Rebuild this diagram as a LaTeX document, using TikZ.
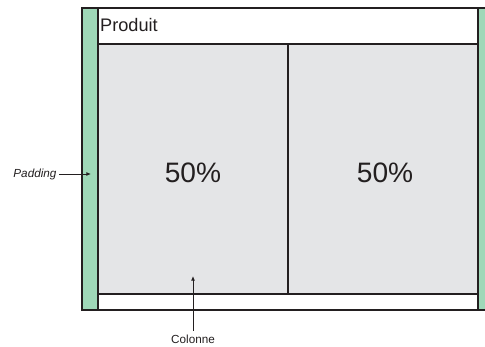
\documentclass[tikz,border=0pt]{standalone}
\usepackage{fontspec}
\setmainfont{Liberation Sans}
\usepackage{xcolor}
\usetikzlibrary{arrows.meta, positioning}

\definecolor{padgreen}{HTML}{9FD8B8}
\definecolor{colgray}{HTML}{E4E5E7}
\definecolor{ink}{HTML}{231F20}

\begin{document}
\begin{tikzpicture}[
x=0.03cm, y=-0.03cm,
frame/.style={draw=ink, line width=1.3pt},
col/.style={rectangle, frame, fill=colgray, inner sep=0pt, minimum width=5.7cm, minimum height=7.5cm},
pct/.style={font=\fontsize{24}{28}\selectfont, text=ink},
lbl/.style={font=\fontsize{10}{12}\selectfont, text=ink},
pointer/.style={-{Latex[length=4pt, width=3.5pt]}, draw=ink, line width=0.8pt}
]

\useasboundingbox (0,0) rectangle (485,347);
\clip (0,0) rectangle (485,347);

% Padding and container
\filldraw[frame, fill=padgreen] (82,8) rectangle (494,310);
\filldraw[frame, fill=white] (98,8) rectangle (478,310);

% Header
\node[anchor=base west, inner sep=0pt, text=ink, font=\fontsize{15.5}{18}\selectfont] (titre) at (100,32) {Produit};

% Columns
\node[col] (col1) at (193,169) {};
\node[col] (col2) at (383,169) {};
\node[pct] (pct1) at (193,173) {50\%};
\node[pct] (pct2) at (385,173) {50\%};

% Labels
\node[lbl, anchor=east, inner sep=2pt] (padlbl) at (59,174) {\itshape Padding};
\coordinate (padtip) at (91,174);
\draw[pointer] (padlbl) -- (padtip);

\node[lbl] (collbl) at (193,339) {Colonne};
\coordinate (coltip) at (193,276);
\draw[pointer] (collbl) -- (coltip);

\end{tikzpicture}
\end{document}
